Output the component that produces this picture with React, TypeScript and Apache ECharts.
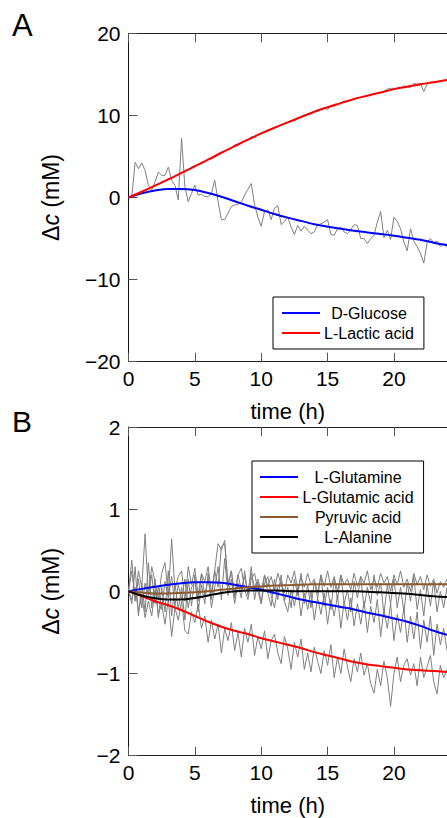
import React, { useEffect, useRef } from "react";
import * as echarts from "echarts";

// ---------- data ----------
const fitTimes = [0, 1, 2, 3, 4, 5, 6, 7, 8, 9, 10, 11, 12, 13, 14, 15, 16, 17, 18, 19, 20, 21, 22, 23, 24];
const rawStep = 0.25; // sampling interval of the measured traces (h)

// Panel A
const glucoseFit = [0, 0.5, 0.85, 1.05, 1.05, 0.9, 0.55, 0.1, -0.45, -1.0, -1.5, -2.0, -2.45, -2.85, -3.25, -3.55, -3.8, -4.05, -4.25, -4.45, -4.65, -4.9, -5.15, -5.5, -5.8];
const lacticFit = [0, 0.7, 1.45, 2.2, 3.0, 3.8, 4.6, 5.45, 6.25, 7.05, 7.8, 8.5, 9.15, 9.8, 10.45, 11.0, 11.5, 12.0, 12.4, 12.8, 13.2, 13.5, 13.8, 14.05, 14.3];
const glucoseRaw = [
  0, 0.1, 4.3, 3.5, 4.2, 3.3, 1.5, 0.9, 1.9, 3.1, 2.7, 2.7, 3.7, 2.1, 1.5, -0.3,
  7.2, 1.3, -0.5, 0.5, 1.5, 0.3, 0.4, 0.1, 0.1, 0.5, 2.1, -0.5, -2.7, -2.7, -1.9, -1.1,
  -0.9, -0.8, -0.6, 0.3, 1.0, 1.7, -0.9, -2.4, -3.5, -1.7, -1.5, -2.7, -1.3, -1.0, -3.3, -2.9,
  -2.4, -3.6, -4.5, -3.4, -4.1, -3.5, -4.0, -4.4, -4.2, -3.3, -3.2, -3.0, -2.7, -4.5, -4.6, -3.8,
  -3.6, -4.2, -4.4, -3.9, -3.3, -3.4, -5.0, -5.0, -5.6, -5.0, -4.6, -3.0, -1.7, -4.9, -4.0, -5.1,
  -2.4, -2.9, -3.8, -5.4, -6.5, -3.8, -5.3, -6.0, -6.8, -8.0, -5.5, -5.0, -5.5, -5.3, -6.0, -5.6, -6.1,
];
const lacticRaw = [
  0, 0.2, 0.3, 0.6, 0.7, 0.9, 1.1, 1.2, 1.5, 1.6, 1.9, 2.0, 2.3, 2.4, 2.6, 2.8,
  3.0, 3.3, 3.4, 3.7, 3.9, 4.0, 4.3, 4.4, 4.7, 4.8, 5.1, 5.3, 5.5, 5.6, 5.9, 6.0,
  6.4, 6.4, 6.7, 6.8, 7.0, 7.4, 7.3, 7.6, 7.8, 8.0, 8.2, 8.3, 8.5, 8.6, 8.9, 9.0,
  9.1, 9.4, 9.3, 9.7, 9.8, 9.9, 10.1, 10.2, 10.5, 10.5, 10.7, 10.9, 10.7, 11.2, 11.1, 11.3,
  11.5, 11.6, 11.7, 11.8, 12.0, 12.1, 12.2, 12.3, 12.4, 12.5, 12.6, 12.7, 12.8, 12.9, 13.2, 13.3,
  13.3, 13.2, 13.3, 13.6, 13.5, 13.4, 13.9, 13.8, 13.9, 12.9, 13.8, 14.0, 14.1, 14.0, 14.2, 14.3, 14.3,
];

// Panel B
const glutamineFit = [0, 0.03, 0.055, 0.08, 0.1, 0.11, 0.11, 0.105, 0.08, 0.05, 0.02, -0.02, -0.06, -0.1, -0.13, -0.16, -0.19, -0.22, -0.26, -0.29, -0.33, -0.37, -0.42, -0.48, -0.53];
const glutamicFit = [0, -0.06, -0.12, -0.17, -0.23, -0.3, -0.37, -0.43, -0.48, -0.52, -0.57, -0.61, -0.65, -0.69, -0.74, -0.78, -0.82, -0.86, -0.89, -0.91, -0.93, -0.95, -0.96, -0.97, -0.98];
const pyruvicFit = [0, -0.015, -0.025, -0.025, -0.02, -0.01, 0.0, 0.02, 0.035, 0.05, 0.06, 0.07, 0.075, 0.08, 0.085, 0.085, 0.085, 0.085, 0.085, 0.085, 0.085, 0.085, 0.085, 0.085, 0.085];
const alanineFit = [0, -0.05, -0.085, -0.1, -0.1, -0.08, -0.05, -0.02, 0.0, 0.01, 0.01, 0.01, 0.005, 0.0, 0.0, 0.0, 0.0, 0.0, -0.005, -0.01, -0.02, -0.03, -0.045, -0.06, -0.07];

const glutamineRaw = [
  0, 0.38, -0.12, 0.25, 0.05, 0.7, -0.05, 0.3, 0.12, -0.1, 0.22, 0.35, -0.05, 0.64, 0.02, 0.18,
  0.25, -0.12, 0.3, 0.08, 0.28, -0.05, 0.22, 0.12, 0.3, -0.02, 0.26, 0.58, 0.5, 0.62, 0.05, 0.25,
  -0.08, 0.2, 0.28, 0.02, -0.1, 0.15, 0.22, 0.0, -0.15, 0.1, 0.18, -0.05, -0.2, 0.05, 0.12, -0.12,
  -0.25, 0.02, -0.18, 0.05, -0.3, -0.02, -0.22, 0.0, -0.35, -0.08, -0.28, -0.02, -0.4, -0.1, -0.3, -0.05,
  -0.45, -0.12, -0.35, -0.08, -0.42, -0.15, -0.4, -0.12, -0.5, -0.18, -0.38, -0.1, -0.55, -0.22, -0.45, -0.15,
  -0.6, -0.28, -0.5, -0.2, -0.62, -0.3, -0.58, -0.25, -0.7, -0.35, -0.62, -0.3, -0.78, -0.4, -0.65, -0.45, -0.72,
];
const glutamicRaw = [
  0, -0.1, 0.05, -0.25, -0.05, -0.32, -0.12, -0.3, 0.02, -0.28, -0.15, -0.4, -0.1, -0.55, -0.2, -0.35,
  -0.12, -0.48, -0.52, -0.25, -0.38, -0.15, -0.45, -0.3, -0.62, -0.35, -0.58, -0.4, -0.75, -0.45, -0.6, -0.38,
  -0.72, -0.5, -0.8, -0.45, -0.62, -0.4, -0.78, -0.55, -0.7, -0.48, -0.82, -0.6, -0.52, -0.75, -0.88, -0.55,
  -0.7, -0.95, -0.62, -0.8, -0.58, -0.95, -0.75, -0.98, -0.68, -0.85, -1.0, -0.72, -0.9, -0.65, -1.05, -0.8,
  -1.0, -0.7, -0.92, -1.1, -0.82, -0.98, -0.75, -1.02, -0.88, -1.12, -1.24, -0.95, -1.15, -0.85, -1.05, -1.4,
  -1.0, -0.8, -1.1, -0.9, -0.82, -1.02, -0.88, -1.15, -0.8, -1.05, -0.92, -0.78, -1.1, -1.25, -0.9, -1.05, -0.95,
];
const pyruvicRaw = [
  0, 0.25, -0.1, 0.15, -0.2, 0.1, -0.05, 0.2, -0.15, 0.05, -0.22, 0.12, -0.08, 0.18, -0.18, 0.08,
  -0.1, 0.15, -0.2, 0.05, 0.12, -0.12, 0.2, -0.05, 0.15, -0.1, 0.25, 0.05, 0.55, 0.58, 0.1, 0.25,
  -0.05, 0.2, 0.02, 0.18, -0.02, 0.22, 0.05, 0.15, 0.0, 0.2, 0.06, 0.18, 0.02, 0.22, 0.08, -0.02,
  0.2, 0.1, 0.25, 0.02, 0.18, 0.05, 0.22, 0.08, 0.15, -0.02, 0.2, 0.06, 0.25, 0.05, 0.18, 0.0,
  0.2, 0.08, 0.15, 0.02, 0.22, 0.06, 0.18, 0.1, 0.25, 0.02, 0.15, 0.05, 0.22, 0.1, 0.18, 0.0,
  0.2, 0.08, 0.25, 0.05, 0.15, 0.0, 0.22, 0.08, 0.18, 0.02, 0.2, 0.06, 0.15, -0.02, 0.12, 0.05, 0.15,
];
const alanineRaw = [
  0, -0.15, 0.3, -0.3, 0.1, -0.25, 0.35, -0.2, 0.15, -0.32, 0.05, -0.25, 0.25, -0.3, 0.1, -0.22,
  0.05, -0.35, 0.15, -0.18, 0.2, -0.25, 0.08, -0.15, 0.22, -0.2, 0.05, 0.3, -0.1, 0.4, -0.05, 0.15,
  -0.15, 0.1, -0.08, 0.25, -0.05, 0.3, -0.1, 0.12, -0.15, 0.2, -0.02, -0.18, 0.15, -0.1, 0.2, -0.12,
  0.05, -0.2, 0.15, -0.05, 0.22, -0.15, 0.08, -0.2, 0.12, -0.08, 0.2, -0.18, 0.05, -0.22, 0.15, -0.1,
  0.2, -0.15, 0.02, -0.25, 0.12, -0.08, 0.18, -0.2, 0.05, -0.15, 0.2, -0.05, 0.1, -0.28, 0.08, -0.15,
  0.15, -0.2, 0.05, -0.25, 0.1, -0.12, 0.18, -0.22, 0.02, -0.3, 0.08, -0.18, 0.12, -0.25, 0.0, -0.2, 0.05,
];

const legendA = ["D-Glucose", "L-Lactic acid"];
const legendB = ["L-Glutamine", "L-Glutamic acid", "Pyruvic acid", "L-Alanine"];

// ---------- helpers ----------
const FONT = '"Liberation Sans", Arial, Helvetica, sans-serif';
const rawPairs = (vals: number[]) => vals.map((v, i) => [i * rawStep, v]);
const fitPairs = (vals: number[]) => vals.map((v, i) => [fitTimes[i], v]);
const minusFmt = (v: number) => String(v).replace("-", "\u2212");

const GRAY = "#808080";
const BLUE = "#0000ff";
const RED = "#ff0000";
const BROWN = "#8c5a2d";
const BLACK = "#000000";

function xAxes(gridIndex: number) {
  const common = {
    gridIndex,
    type: "value" as const,
    min: 0,
    max: 24,
    interval: 5,
    splitLine: { show: false },
  };
  return [
    {
      ...common,
      position: "bottom",
      axisLine: { show: true, onZero: false, lineStyle: { color: "#222", width: 1 } },
      axisTick: { show: true, inside: true, length: 9, lineStyle: { color: "#555" } },
      axisLabel: { fontSize: 21, color: "#000", fontFamily: FONT, fontWeight: "normal", margin: 6, showMaxLabel: false },
      name: "time (h)",
      nameLocation: "middle",
      nameGap: 39,
      nameTextStyle: { fontSize: 22, color: "#000", fontFamily: FONT, fontWeight: "normal" },
    },
    {
      ...common,
      position: "top",
      axisLine: { show: true, onZero: false, lineStyle: { color: "#222", width: 1 } },
      axisTick: { show: true, inside: true, length: 9, lineStyle: { color: "#555" } },
      axisLabel: { show: false },
    },
  ];
}

function yAxis(gridIndex: number, min: number, max: number, interval: number) {
  return {
    gridIndex,
    type: "value",
    min,
    max,
    interval,
    splitLine: { show: false },
    axisLine: { show: true, onZero: false, lineStyle: { color: "#111", width: 1 } },
    axisTick: { show: true, inside: true, length: 9, lineStyle: { color: "#555" } },
    axisLabel: { fontSize: 21, color: "#000", fontFamily: FONT, fontWeight: "normal", margin: 8, formatter: minusFmt },
    name: "{d|\u0394}{i|c}{d| (mM)}",
    nameLocation: "middle",
    nameGap: 66,
    nameTextStyle: {
      fontSize: 23,
      color: "#000",
      fontFamily: FONT,
      fontWeight: "normal",
      rich: {
        d: { fontSize: 23, fontFamily: FONT, fontWeight: "normal", color: "#000" },
        i: { fontSize: 23, fontFamily: FONT, fontWeight: "normal", fontStyle: "italic", color: "#000" },
      },
    },
  };
}

function rawSeries(data: number[], xi: number, yi: number) {
  return {
    type: "line",
    xAxisIndex: xi,
    yAxisIndex: yi,
    data: rawPairs(data),
    symbol: "none",
    showSymbol: false,
    silent: true,
    lineStyle: { color: GRAY, width: 1 },
    itemStyle: { color: GRAY },
    z: 2,
  };
}

function fitSeries(name: string, data: number[], color: string, xi: number, yi: number) {
  return {
    name,
    type: "line",
    xAxisIndex: xi,
    yAxisIndex: yi,
    data: fitPairs(data),
    smooth: 0.4,
    symbol: "none",
    showSymbol: false,
    lineStyle: { color, width: 2 },
    itemStyle: { color },
    z: 4,
  };
}

function legend(data: string[], left: number, top: number, textWidth: number, padding: number[]) {
  return {
    data: data.map((name) => ({ name, icon: "rect" })),
    orient: "vertical",
    left,
    top,
    padding,
    itemWidth: 38,
    itemHeight: 2,
    itemGap: 2,
    borderColor: "#000",
    borderWidth: 1,
    borderRadius: 0,
    backgroundColor: "#fff",
    selectedMode: false,
    formatter: (n: string) => `{c|${n}}`,
    textStyle: {
      fontSize: 16,
      fontFamily: FONT,
      color: "#000",
      rich: { c: { width: textWidth, height: 18, lineHeight: 18, align: "center", fontSize: 16, fontFamily: FONT, color: "#000" } },
    },
  };
}

export default function App() {
  const ref = useRef<HTMLDivElement>(null);
  useEffect(() => {
    if (!ref.current) return;
    const chart = echarts.init(ref.current, undefined, { renderer: "svg" });
    chart.setOption({
      animation: false,
      backgroundColor: "#fff",
      textStyle: { fontFamily: FONT },
      grid: [
        { left: 128.5, top: 33.3, width: 329.5, height: 328.4 },
        { left: 128.5, top: 427, width: 329.5, height: 328.7 },
      ],
      xAxis: [...xAxes(0), ...xAxes(1)],
      yAxis: [yAxis(0, -20, 20, 10), yAxis(1, -2, 2, 1)],
      legend: [
        legend(legendA, 273, 297, 88, [7, 10, 7, 9]),
        legend(legendB, 252, 461, 110, [7, 10, 7, 8]),
      ],
      graphic: [
        { type: "text", left: 12, top: 10, style: { text: "A", fontSize: 31, fontFamily: FONT, fill: "#000" } },
        { type: "text", left: 12, top: 406, style: { text: "B", fontSize: 30, fontFamily: FONT, fill: "#000" } },
      ],
      series: [
        rawSeries(glucoseRaw, 0, 0),
        rawSeries(lacticRaw, 0, 0),
        fitSeries(legendA[0], glucoseFit, BLUE, 0, 0),
        fitSeries(legendA[1], lacticFit, RED, 0, 0),
        rawSeries(glutamineRaw, 2, 1),
        rawSeries(glutamicRaw, 2, 1),
        rawSeries(pyruvicRaw, 2, 1),
        rawSeries(alanineRaw, 2, 1),
        fitSeries(legendB[0], glutamineFit, BLUE, 2, 1),
        fitSeries(legendB[1], glutamicFit, RED, 2, 1),
        fitSeries(legendB[2], pyruvicFit, BROWN, 2, 1),
        fitSeries(legendB[3], alanineFit, BLACK, 2, 1),
      ],
    });
    return () => chart.dispose();
  }, []);
  return (
    <div
      ref={ref}
      style={{ position: "fixed", left: 0, top: 0, width: 447, height: 818, background: "#fff" }}
    />
  );
}
